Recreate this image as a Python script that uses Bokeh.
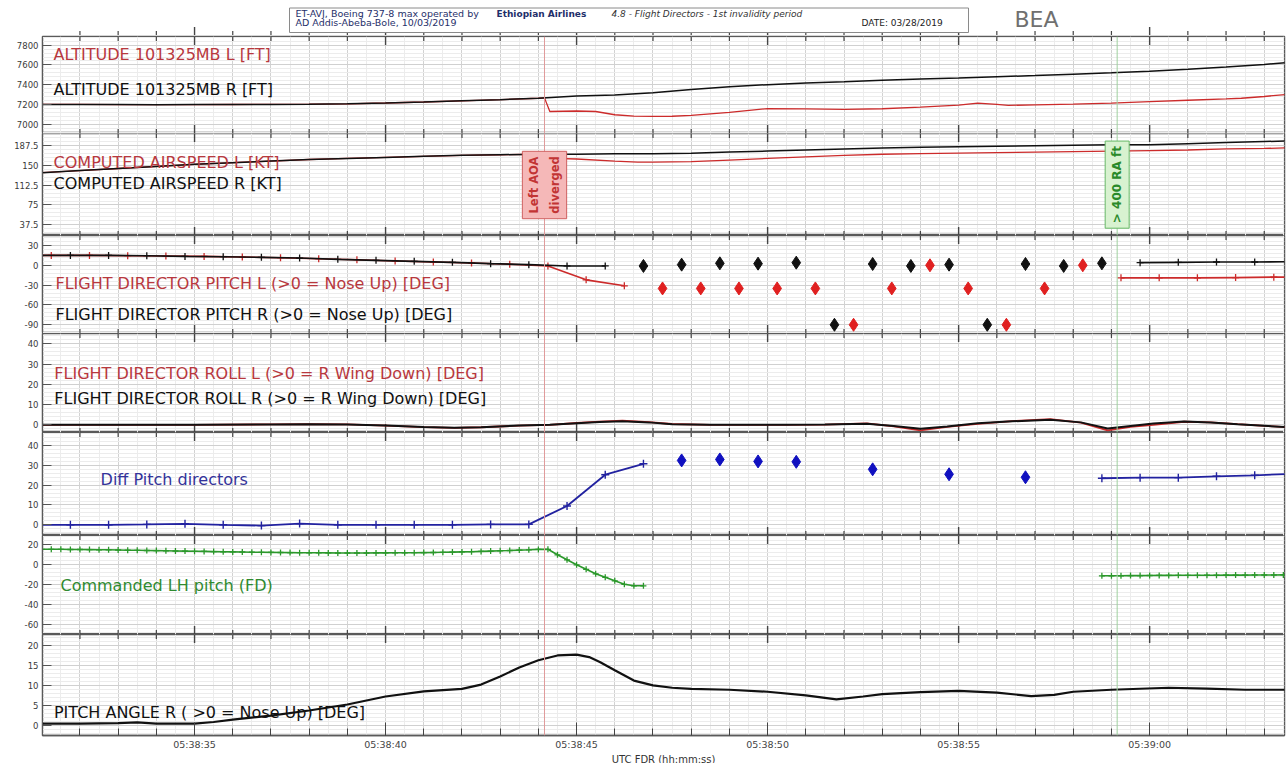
import math
from bokeh.plotting import figure
from bokeh.models import Range1d, FixedTicker, Span, Label
from bokeh.layouts import column
from bokeh.embed import file_html
from bokeh.resources import INLINE
from bokeh.core.properties import value

# ---------------- data (time = seconds after 05:38:00 UTC) ----------------
tick_secs = [35, 40, 45, 50, 55, 60]
tick_labels = ["05:38:35", "05:38:40", "05:38:45", "05:38:50", "05:38:55", "05:39:00"]
aoa_diverged_t = 44.16
ra_400_t = 59.15

# Altitude 101325 mb [ft]
alt_r_t = [31, 32, 33, 34, 35, 36, 37, 38, 39, 40, 41, 42, 43, 44, 45, 46, 47, 48, 49, 50,
           51, 52, 53, 54, 55, 56, 57, 58, 59, 60, 61, 62, 63, 63.6]
alt_r = [7200, 7200, 7198, 7197, 7198, 7199, 7200, 7202, 7206, 7214, 7224, 7236, 7248, 7262,
         7284, 7296, 7318, 7352, 7380, 7400, 7416, 7430, 7445, 7458, 7468, 7480, 7492, 7506,
         7520, 7536, 7556, 7578, 7604, 7625]
alt_l_t = [31, 32, 33, 34, 35, 36, 37, 38, 39, 40, 41, 42, 43, 44, 44.16, 44.3, 45, 45.5, 46,
           46.5, 47, 47.5, 48, 49, 50, 51, 52, 53, 54, 55, 55.5, 56, 56.3, 57, 58, 59, 60, 61,
           62, 62.4, 63, 63.6]
alt_l = [7200, 7200, 7198, 7197, 7198, 7199, 7200, 7202, 7206, 7214, 7224, 7236, 7248, 7262,
         7266, 7128, 7133, 7128, 7095, 7082, 7078, 7080, 7088, 7120, 7158, 7155, 7150, 7156,
         7172, 7192, 7213, 7200, 7190, 7195, 7203, 7213, 7228, 7242, 7256, 7262, 7280, 7302]

# Computed airspeed [kt]
cas_r_t = [31, 32, 33, 34, 35, 36, 37, 38, 39, 40, 41, 42, 43, 44, 45, 46, 47, 48, 49, 50,
           51, 52, 53, 54, 55, 56, 57, 58, 59, 60, 61, 62, 63, 63.6]
cas_r = [136, 140, 144, 148, 152, 155, 158, 161, 163, 165, 167, 169, 170, 171, 171, 172, 172,
         173, 175, 177, 179, 181, 183, 184, 185, 186, 187, 188, 189, 189, 191, 193, 195, 196]
cas_l_t = [31, 32, 33, 34, 35, 36, 37, 38, 39, 40, 41, 42, 43, 44, 44.16, 44.4, 45, 46, 46.6,
           47, 48, 49, 50, 51, 52, 53, 54, 55, 56, 57, 58, 59, 60, 61, 62, 63, 63.6]
cas_l = [136, 140, 144, 148, 152, 155, 158, 161, 163, 165, 167, 169, 170, 171, 171, 163, 162,
         158, 156, 156, 157, 160, 163, 166, 169, 171, 172, 173, 174, 175, 176, 177, 178, 179,
         181, 182, 183]

# Flight director pitch [deg]
fdl_t = [30.25, 31.25, 32.25, 33.25, 34.25, 35.25, 36.25, 37.25, 38.25, 39.25, 40.25, 41.25,
         42.25, 43.25, 44.25, 45.25, 46.25]
fdl = [15, 15, 15, 14.5, 14, 13.5, 12.5, 11.5, 10, 8.5, 6.5, 5, 3.5, 1.5, -1, -22, -31]
fdr_t = [30.75, 31.75, 32.75, 33.75, 34.75, 35.75, 36.75, 37.75, 38.75, 39.75, 40.75, 41.75,
         42.75, 43.75, 44.75, 45.75]
fdr = [15, 15, 15, 14.5, 13.5, 13, 12, 11, 9, 7.5, 6, 4.5, 2.5, 1, -1, -1]
fdr_pts_t = [46.75, 47.75, 48.75, 49.75, 50.75, 51.75, 52.75, 53.75, 54.75, 55.75, 56.75,
             57.75, 58.75]
fdr_pts = [-1, 1, 3, 2.5, 4, -90, 2, -1, 1, -90, 2, -1, 3]
fdl_pts_t = [47.25, 48.25, 49.25, 50.25, 51.25, 52.25, 53.25, 54.25, 55.25, 56.25, 57.25, 58.25]
fdl_pts = [-35, -35, -35, -35, -35, -90, -35, 0, -35, -90, -35, 0]
fdl2_t = [59.25, 60.25, 61.25, 62.25, 63.25, 64.25]
fdl2 = [-19, -19, -19, -18.5, -18, -18]
fdr2_t = [59.75, 60.75, 61.75, 62.75, 63.75]
fdr2 = [4, 4.5, 5, 5, 5.5]

# Flight director roll [deg]
roll_t = [31, 33, 35, 37, 38, 39, 40, 41, 41.8, 42.5, 43.5, 44.3, 45, 45.6, 46.2, 46.9, 47.5,
          48.5, 49.5, 50.5, 51.5, 52.6, 53.3, 54.0, 54.7, 55.5, 56.4, 57.4, 58.2, 58.9, 59.5,
          60.1, 60.9, 61.6, 62.3, 63.0, 63.6]
roll_r = [0, 0, 0, 0.2, 0.3, 0.2, -0.4, -1.1, -1.5, -1.2, -0.4, 0, 0.8, 1.4, 1.8, 1.2, 0.3,
          0, 0, 0, 0.2, 0.5, -0.6, -2, -0.8, 0.8, 1.7, 2.5, 1.2, -1.8, -0.6, 0.6, 1.6, 1.2,
          0.3, -0.5, -1.2]
roll_l = [0, 0, 0, 0.2, 0.3, 0.2, -0.4, -1.1, -1.5, -1.2, -0.4, 0, 0.9, 1.6, 2.0, 1.3, 0.4,
          0, 0, 0, 0.1, 0.7, -0.8, -2.7, -1.0, 0.5, 1.8, 2.8, 1.1, -2.8, -1.0, 0.0, 1.5, 1.2,
          0.3, -0.5, -1.2]

# Difference between pitch directors [deg]
diff_t = [30.75, 31.75, 32.75, 33.75, 34.75, 35.75, 36.75, 37.75, 38.75, 39.75, 40.75, 41.75,
          42.75, 43.75, 44.75, 45.75, 46.75]
diff = [0, 0, 0, 0.2, 0.5, 0, -0.4, 0.6, 0, 0, 0, 0, 0.2, 0.2, 9.5, 25.3, 30.8]
diff_pts_t = [47.75, 48.75, 49.75, 50.75, 52.75, 54.75, 56.75]
diff_pts = [32.5, 33, 32, 31.8, 28, 25.5, 24]
diff2_t = [58.75, 59.75, 60.75, 61.75, 62.75, 63.75]
diff2 = [23.5, 23.8, 23.8, 24.5, 25, 25.8]

# Commanded LH pitch (FD) [deg]
cmd_t = [31.0, 31.25, 31.5, 31.75, 32.0, 32.25, 32.5, 32.75, 33.0, 33.25, 33.5, 33.75, 34.0,
         34.25, 34.5, 34.75, 35.0, 35.25, 35.5, 35.75, 36.0, 36.25, 36.5, 36.75, 37.0, 37.25,
         37.5, 37.75, 38.0, 38.25, 38.5, 38.75, 39.0, 39.25, 39.5, 39.75, 40.0, 40.25, 40.5,
         40.75, 41.0, 41.25, 41.5, 41.75, 42.0, 42.25, 42.5, 42.75, 43.0, 43.25, 43.5, 43.75,
         44.0, 44.25, 44.5, 44.75, 45.0, 45.25, 45.5, 45.75, 46.0, 46.25, 46.5, 46.75]
cmd = [15.5, 15.5, 15.5, 15.3, 15.3, 15.2, 15.0, 15.0, 14.8,
       14.6, 14.5, 14.3, 14.2, 14.0, 13.8, 13.7, 13.5,
       13.4, 13.2, 13.0, 12.9, 12.8, 12.6, 12.5, 12.4,
       12.3, 12.2, 12.1, 12.0, 12.0, 11.9, 11.8, 11.8,
       11.8, 11.8, 11.9, 11.9, 12.0, 12.0, 12.1, 12.2,
       12.3, 12.5, 12.7, 12.9, 13.1, 13.4, 13.7, 14.0,
       14.3, 14.7, 15.0, 15.4,
       15.5, 10.0, 5.0, 0.0, -4.5, -9.0, -12.5, -16.0, -19.5, -21.0, -21.0]
cmd2_t = [58.75, 59.0, 59.25, 59.5, 59.75, 60.0, 60.25, 60.5, 60.75, 61.0, 61.25, 61.5, 61.75,
          62.0, 62.25, 62.5, 62.75, 63.0, 63.25, 63.5, 63.75]
cmd2 = [-11, -11, -11, -10.8, -10.8, -10.7, -10.6, -10.6, -10.5, -10.5, -10.5, -10.4, -10.4,
        -10.3, -10.3, -10.3, -10.2, -10.2, -10.2, -10.1, -10.1]

# Pitch angle R [deg]
pa_t = [31, 32, 33, 33.5, 34, 35, 35.5, 36, 37, 38, 39, 40, 41, 42, 42.5, 43, 43.5, 44, 44.5,
        45, 45.33, 45.62, 46, 46.5, 47, 47.5, 48, 49, 50, 51, 51.8, 52.5, 53, 54, 55, 56, 56.9,
        57.5, 58, 59, 60.5, 61.5, 62.5, 63.6]
pa = [0.4, 0.4, 0.5, 0.7, 0.4, 0.4, 0.8, 1.4, 2.4, 3.7, 5.2, 7.2, 8.5, 9.1, 10.2, 12.2, 14.5,
      16.3, 17.5, 17.7, 17.1, 15.8, 13.8, 11.2, 10.0, 9.4, 9.1, 8.9, 8.4, 7.5, 6.5, 7.2, 7.8,
      8.3, 8.6, 8.2, 7.3, 7.6, 8.4, 8.9, 9.4, 9.2, 8.9, 8.9]

# ---------------- styling ----------------
FONT = "DejaVu Sans"
RED_LINE = "#cc2b2b"
RED_TXT = "#b8383e"
BLACK = "#111111"
BLUE_LINE = "#2222a0"
BLUE_TXT = "#33339a"
GREEN_LINE = "#2b982b"
GREEN_TXT = "#2f8a2f"
LBL = "16px"

X0, X1 = 31.02, 63.53
FRAME_W = 1242
LEFT = 42
RIGHT = 2
xr = Range1d(X0, X1)

sec_ticks = list(range(32, 64))
half_ticks = [s + 0.5 for s in range(31, 64)]
minor_secs = [s for s in sec_ticks if s not in tick_secs]


def fmt(v):
    return ("%g" % v)


def edge_ticks(p, yy, x_range_name="default"):
    p.scatter(x=minor_secs, y=[yy] * len(minor_secs), marker="dash", angle=math.pi / 2,
              size=9, line_color="#444444", line_width=1.2, x_range_name=x_range_name)
    p.scatter(x=tick_secs, y=[yy] * len(tick_secs), marker="dash", angle=math.pi / 2,
              size=17, line_color="#444444", line_width=1.4, x_range_name=x_range_name)


def panel(frame_h, yr, yticks, ystep, bottom=False, top_pad=0):
    p = figure(frame_width=FRAME_W, frame_height=frame_h, x_range=xr,
               y_range=Range1d(*yr), output_backend="svg", toolbar_location=None,
               x_axis_location="below" if bottom else None,
               min_border_left=LEFT, min_border_right=RIGHT, min_border_top=top_pad,
               min_border_bottom=0)
    p.outline_line_color = "#5a5a5a"
    p.outline_line_width = 1.5
    p.border_fill_color = "white"
    yax = p.yaxis[0]
    yax.ticker = FixedTicker(ticks=yticks)
    yax.major_label_overrides = {v: fmt(v) for v in yticks}
    yax.major_tick_in = 9
    yax.major_tick_out = 0
    yax.minor_tick_in = 0
    yax.minor_tick_out = 0
    yax.axis_line_color = "#5a5a5a"
    yax.major_tick_line_color = "#555555"
    yax.major_label_text_font = FONT
    yax.major_label_text_font_size = "8.5px"
    yax.major_label_text_color = "#3a3a3a"
    yax.major_label_standoff = 4
    lo, hi = yr
    yminor = []
    v = yticks[0] - ystep * 20
    while v <= hi:
        if v >= lo:
            yminor.append(round(v, 4))
        v += ystep
    p.ygrid.ticker = FixedTicker(ticks=yticks, minor_ticks=yminor)
    p.ygrid.grid_line_color = "#d0d0d0"
    p.ygrid.minor_grid_line_color = "#ececec"
    p.xgrid.ticker = FixedTicker(ticks=sec_ticks, minor_ticks=half_ticks)
    p.xgrid.grid_line_color = "#d2d2d2"
    p.xgrid.minor_grid_line_color = "#ececec"
    for yy in ([hi] if bottom else [lo, hi]):
        edge_ticks(p, yy)
    p.add_layout(Span(location=aoa_diverged_t, dimension="height", line_color="#e09a9a",
                      line_width=1))
    p.add_layout(Span(location=ra_400_t, dimension="height", line_color="#9fd09f",
                      line_width=1))
    return p


def ptext(p, x, y, txt, color, size=LBL):
    p.text(x=[x], y=[y], text=[txt], text_font=value(FONT), text_font_size=value(size),
           text_color=color, text_align="left", text_baseline="middle")


# ---------------- header (pixel coordinates relative to plot frame, y up) ----------------
HH = 35
hdr = figure(frame_width=FRAME_W, frame_height=HH, x_range=Range1d(0, FRAME_W),
             y_range=Range1d(0, HH), extra_x_ranges={"t": xr},
             output_backend="svg", toolbar_location=None, x_axis_location=None,
             y_axis_location=None, min_border_left=LEFT, min_border_right=RIGHT,
             min_border_top=0, min_border_bottom=0)
hdr.grid.visible = False
hdr.outline_line_color = None
edge_ticks(hdr, 0, x_range_name="t")
hdr.quad(left=[289 - LEFT], right=[968 - LEFT], bottom=[3], top=[27.5], fill_color="white",
         line_color="#8a8a8a", line_width=1)
hdr.text(x=[295 - LEFT], y=[22], text=["ET-AVJ, Boeing 737-8 max operated by"],
         text_font=value(FONT), text_font_size=value("9.5px"), text_color="#1f2f6a",
         text_align="left", text_baseline="middle")
hdr.text(x=[496 - LEFT], y=[22], text=["Ethiopian Airlines"], text_font=value(FONT),
         text_font_size=value("9px"), text_font_style="bold", text_color="#1f2f6a",
         text_align="left", text_baseline="middle")
hdr.text(x=[295 - LEFT], y=[13], text=["AD Addis-Abeba-Bole, 10/03/2019"],
         text_font=value(FONT), text_font_size=value("9.5px"), text_color="#1f2f6a",
         text_align="left", text_baseline="middle")
hdr.text(x=[611 - LEFT], y=[22], text=["4.8 - Flight Directors - 1st invalidity period"],
         text_font=value(FONT), text_font_size=value("9px"), text_font_style="italic",
         text_color="#333333", text_align="left", text_baseline="middle")
hdr.text(x=[861 - LEFT], y=[13], text=["DATE: 03/28/2019"], text_font=value(FONT),
         text_font_size=value("9px"), text_color="#222222", text_align="left",
         text_baseline="middle")
hdr.text(x=[1014 - LEFT], y=[16], text=["BEA"], text_font=value(FONT),
         text_font_size=value("22px"), text_color="#707070", text_align="left",
         text_baseline="middle")

# ---------------- panel 1: altitude ----------------
p1 = panel(97, (6905, 7888), [7000, 7200, 7400, 7600, 7800], 40, top_pad=1)
p1.line(alt_l_t, alt_l, line_color=RED_LINE, line_width=1.3)
p1.line(alt_r_t, alt_r, line_color=BLACK, line_width=1.5)
ptext(p1, 31.31, 7706, "ALTITUDE 101325MB L [FT]", RED_TXT)
ptext(p1, 31.31, 7351, "ALTITUDE 101325MB R [FT]", BLACK)

# ---------------- panel 2: airspeed ----------------
p2 = panel(102, (17.3, 210.2), [37.5, 75, 112.5, 150, 187.5], 7.5)
p2.line(cas_l_t, cas_l, line_color=RED_LINE, line_width=1.3)
p2.line(cas_r_t, cas_r, line_color=BLACK, line_width=1.5)
ptext(p2, 31.31, 155.9, "COMPUTED AIRSPEED L [KT]", RED_TXT)
ptext(p2, 31.31, 115.1, "COMPUTED AIRSPEED R [KT]", BLACK)
p2.add_layout(Label(x=aoa_diverged_t, y=112.8, text="Left AOA\ndiverged", angle=math.pi / 2,
                    text_align="center", text_baseline="middle", text_font=FONT,
                    text_font_size="11.5px", text_font_style="bold", text_color="#c23434",
                    text_line_height=1.45,
                    background_fill_color="#f5b8b8", border_line_color="#d06060",
                    padding=5))
p2.add_layout(Label(x=ra_400_t, y=113.5, text="> 400 RA ft", angle=math.pi / 2,
                    text_align="center", text_baseline="middle", text_font=FONT,
                    text_font_size="12px", text_font_style="bold", text_color="#2a8a2a",
                    text_line_height=1.6,
                    background_fill_color="#d8f2d0", border_line_color="#66b866",
                    padding=5))

# ---------------- panel 3: FD pitch ----------------
p3 = panel(98, (-103.2, 45.1), [-90, -60, -30, 0, 30], 6)
p3.line(fdl_t, fdl, line_color=RED_LINE, line_width=1.6)
p3.scatter(fdl_t, fdl, marker="cross", size=7, line_color=RED_LINE, line_width=1.3)
p3.line(fdr_t, fdr, line_color=BLACK, line_width=1.6)
p3.scatter(fdr_t, fdr, marker="cross", size=7, line_color=BLACK, line_width=1.3)
p3.scatter(fdl_pts_t, fdl_pts, marker="diamond", size=13, fill_color="#e02020",
           line_color="#e02020")
p3.scatter(fdr_pts_t, fdr_pts, marker="diamond", size=13, fill_color=BLACK, line_color=BLACK)
p3.line(fdl2_t, fdl2, line_color=RED_LINE, line_width=1.8)
p3.scatter(fdl2_t, fdl2, marker="cross", size=7, line_color=RED_LINE, line_width=1.3)
p3.line(fdr2_t, fdr2, line_color=BLACK, line_width=1.6)
p3.scatter(fdr2_t, fdr2, marker="cross", size=7, line_color=BLACK, line_width=1.3)
ptext(p3, 31.36, -27.5, "FLIGHT DIRECTOR PITCH L (>0 = Nose Up) [DEG]", RED_TXT)
ptext(p3, 31.36, -74.4, "FLIGHT DIRECTOR PITCH R (>0 = Nose Up) [DEG]", BLACK)

# ---------------- panel 4: FD roll ----------------
p4 = panel(99, (-3.8, 45.1), [0, 10, 20, 30, 40], 2)
p4.line(roll_t, roll_l, line_color=RED_LINE, line_width=1.8)
p4.line(roll_t, roll_r, line_color=BLACK, line_width=2)
ptext(p4, 31.33, 25.2, "FLIGHT DIRECTOR ROLL L (>0 = R Wing Down) [DEG]", RED_TXT)
ptext(p4, 31.33, 12.9, "FLIGHT DIRECTOR ROLL R (>0 = R Wing Down) [DEG]", BLACK)

# ---------------- panel 5: diff pitch directors ----------------
p5 = panel(103, (-5.4, 46.6), [0, 10, 20, 30, 40], 2)
p5.line(diff_t, diff, line_color=BLUE_LINE, line_width=1.8)
p5.scatter(diff_t, diff, marker="cross", size=8, line_color=BLUE_LINE, line_width=1.4)
p5.scatter(diff_pts_t, diff_pts, marker="diamond", size=13, fill_color="#1010c0",
           line_color="#1010c0")
p5.line(diff2_t, diff2, line_color=BLUE_LINE, line_width=1.8)
p5.scatter(diff2_t, diff2, marker="cross", size=8, line_color=BLUE_LINE, line_width=1.4)
ptext(p5, 32.54, 22.9, "Diff Pitch directors", BLUE_TXT)

# ---------------- panel 6: commanded LH pitch ----------------
p6 = panel(99, (-69.7, 29.3), [-60, -40, -20, 0, 20], 4)
p6.line(cmd_t, cmd, line_color=GREEN_LINE, line_width=1.6)
p6.scatter(cmd_t, cmd, marker="cross", size=6, line_color=GREEN_LINE, line_width=1.3)
p6.line(cmd2_t, cmd2, line_color=GREEN_LINE, line_width=1.6)
p6.scatter(cmd2_t, cmd2, marker="cross", size=6, line_color=GREEN_LINE, line_width=1.3)
ptext(p6, 31.49, -20.7, "Commanded LH pitch (FD)", GREEN_TXT)

# ---------------- panel 7: pitch angle ----------------
p7 = panel(101, (-2.58, 22.76), [0, 5, 10, 15, 20], 1, bottom=True)
p7.line(pa_t, pa, line_color=BLACK, line_width=2.2)
ptext(p7, 31.32, 3.26, "PITCH ANGLE R ( >0 = Nose Up) [DEG]", BLACK)
xax = p7.xaxis[0]
xax.ticker = FixedTicker(ticks=tick_secs, minor_ticks=sec_ticks)
xax.major_label_overrides = dict(zip(tick_secs, tick_labels))
xax.major_tick_in = 13
xax.major_tick_out = 0
xax.minor_tick_in = 7
xax.minor_tick_out = 0
xax.axis_line_color = "#5a5a5a"
xax.axis_line_width = 1.5
xax.major_tick_line_color = "#444444"
xax.minor_tick_line_color = "#444444"
xax.major_label_text_font = FONT
xax.major_label_text_font_size = "9.5px"
xax.major_label_text_color = "#444444"
xax.major_label_standoff = 3
xax.axis_label = "UTC FDR (hh:mm:ss)"
xax.axis_label_text_font = FONT
xax.axis_label_text_font_size = "10px"
xax.axis_label_text_font_style = "normal"
xax.axis_label_text_color = "#333333"
xax.axis_label_standoff = 1

layout = column(hdr, p1, p2, p3, p4, p5, p6, p7, spacing=0)
open("out.html", "w").write(file_html(layout, INLINE))
